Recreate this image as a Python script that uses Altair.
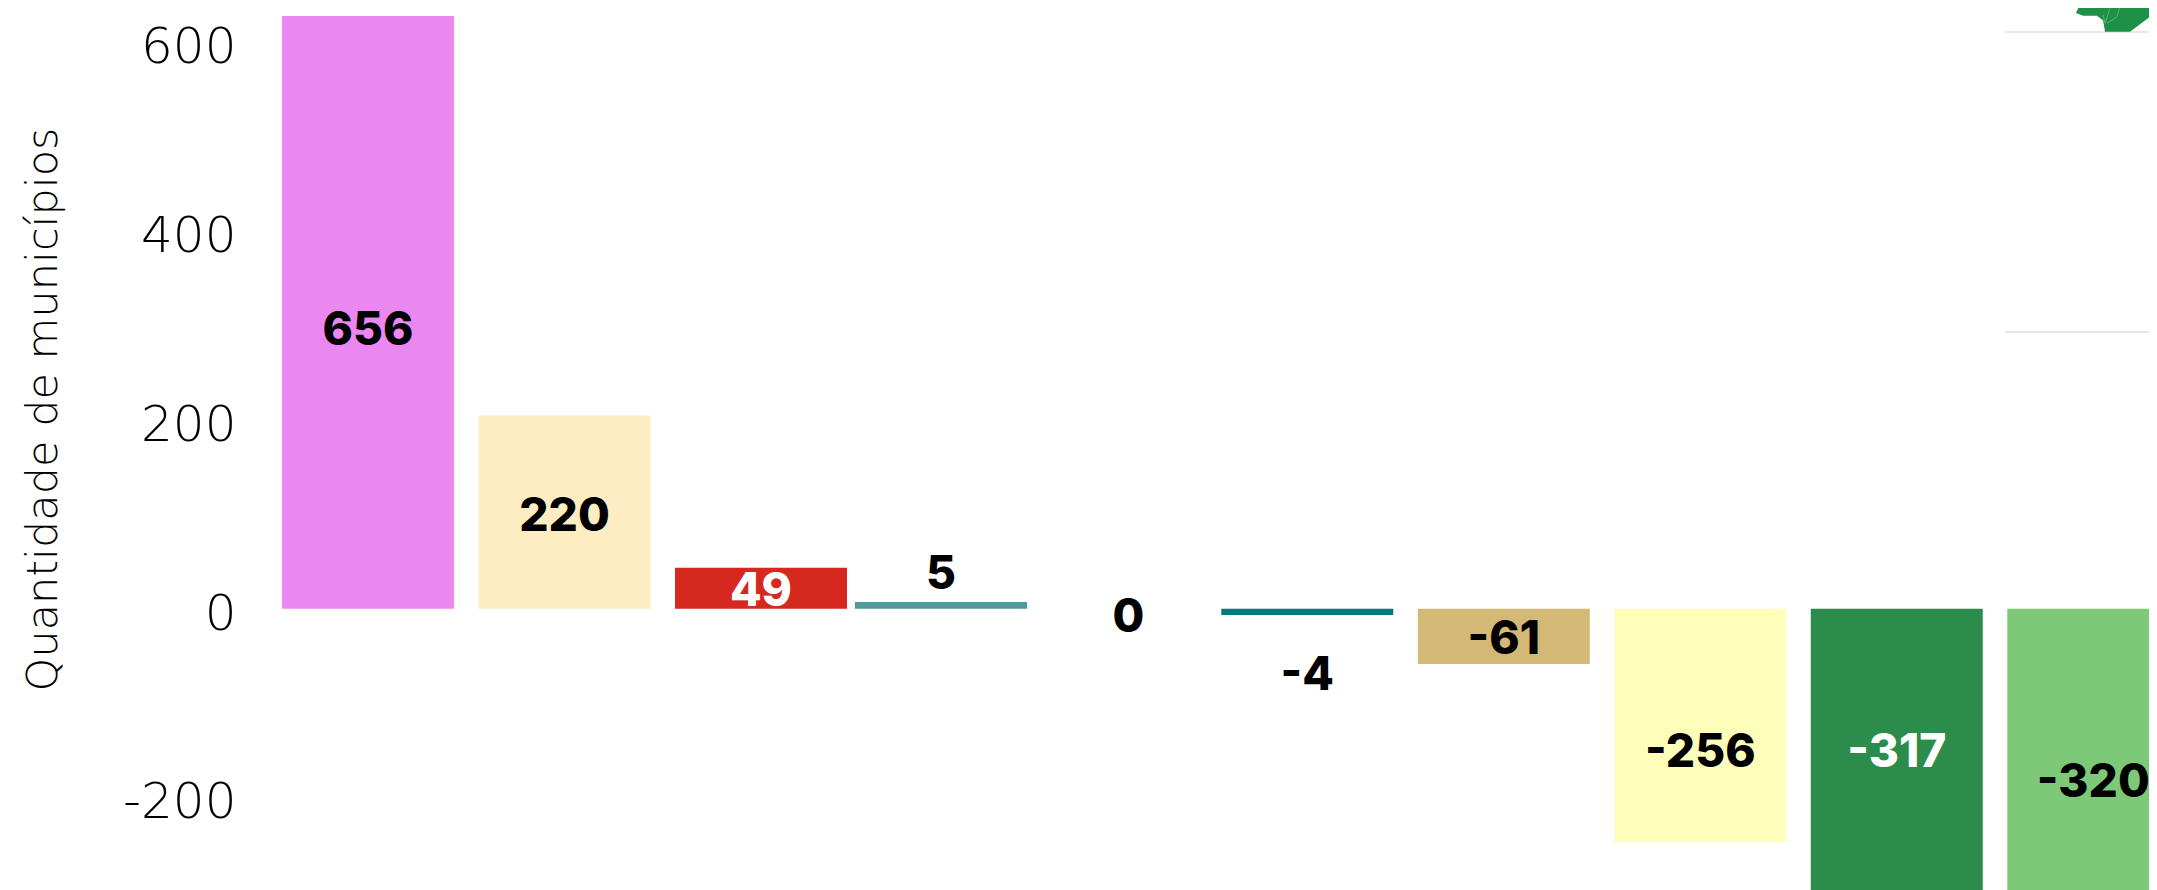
import altair as alt
import pandas as pd

# Labels as printed on the bars
labels = ["656", "220", "49", "5", "0", "-4", "-61", "-256", "-317", "-320"]
label_colors = ["#000000", "#000000", "#ffffff", "#000000", "#000000", "#000000", "#000000", "#000000", "#ffffff", "#000000"]
# Horizontal slot of each bar (slots are slightly uneven in the reference)
slots = [0, 1, 2, 2.916, 3.87, 4.78, 5.78, 6.78, 7.78, 8.78]
# Bar ends read on the axis' scale
bar_base = [3.5, 3.5, 3.5, 3.5, 3.5, 3.5, 3.5, 3.5, 3.5, 3.5]
bar_end = [630.7, 208, 46.9, 10.6, 3.5, -3.2, -55, -243.4, -302, -305]
# Label centres read on the axis' scale
label_pos = [297, 101, 21, 39, -6, -68, -30, -149, -149, -181]
colors = ["#EB87F0", "#FEEDC3", "#D5281F", "#4F9A9B", "#FFFFFF", "#00787F", "#D3B975", "#FEFEBB", "#2C8C4B", "#7DC977"]
ticks = [-200, 0, 200, 400, 600]

# Faint grid lines of the backdrop, top right
grid_values = [613.8, 296.3]
grid_from = 8.33
grid_to = 9.105

# Fragment of a map, top right
map_x = [8.692, 8.728, 8.799, 8.83, 8.84, 8.967, 9.069, 9.074, 9.105]
map_low = [634, 631, 631, 626, 614, 614, 630, 584, 581]
map_high = [634, 650, 650, 650, 650, 650, 650, 650, 650]
# Pale borders inside the map
line_x = [8.865, 8.83, 8.84, 8.926, 8.901, 8.85]
line_v = [639, 632, 623, 650, 630, 623]
line_id = ["a", "a", "a", "b", "b", "b"]

df = pd.DataFrame({
    "slot": slots, "base": bar_base, "end": bar_end, "color": colors,
    "label": labels, "label_pos": label_pos, "label_color": label_colors,
})
grid_df = pd.DataFrame({"v": grid_values, "a": [grid_from] * 2, "b": [grid_to] * 2})
map_df = pd.DataFrame({"x": map_x, "low": map_low, "high": map_high})
line_df = pd.DataFrame({"x": line_x, "v": line_v, "id": line_id})

FONT = "Inter"
AXIS_FONT = "DejaVu Sans"
x_scale = alt.Scale(domain=[(240 - 368) / 196.5, (2149 - 368) / 196.5], nice=False, zero=False, padding=0)
y_scale = alt.Scale(domain=[-294.2, 639.2], nice=False, zero=False, padding=0)

y_axis = alt.Axis(
    values=ticks, grid=False, domain=False, ticks=False, labelFont=AXIS_FONT, labelFontSize=50,
    labelFontWeight=200, labelColor="#000000", labelPadding=4, labelFlush=False, labelOverlap=False,
    labelExpr="toString(datum.value)", labelOffset=2,
    title="Quantidade de municípios", titleFont=AXIS_FONT, titleFontSize=43, titleFontWeight=200,
    titleColor="#000000", titleX=-175, titleY=401, titleAnchor="middle",
)

grid = alt.Chart(grid_df).mark_rule(color="#E8E8E8", strokeWidth=2, clip=True).encode(
    x=alt.X("a:Q", scale=x_scale, axis=None),
    x2="b:Q",
    y=alt.Y("v:Q", scale=y_scale, axis=y_axis),
)
map_part = alt.Chart(map_df).mark_area(color="#1D9148", clip=True).encode(
    x=alt.X("x:Q", scale=x_scale, axis=None),
    y=alt.Y("low:Q", scale=y_scale, axis=y_axis),
    y2="high:Q",
)
map_lines = alt.Chart(line_df).mark_line(color="#5DAF7A", strokeWidth=1, clip=True).encode(
    x=alt.X("x:Q", scale=x_scale, axis=None),
    y=alt.Y("v:Q", scale=y_scale, axis=y_axis),
    detail="id:N",
)
bars = alt.Chart(df).mark_bar(size=172, clip=True).encode(
    x=alt.X("slot:Q", scale=x_scale, axis=None),
    y=alt.Y("base:Q", scale=y_scale, axis=y_axis),
    y2="end:Q",
    color=alt.Color("color:N", scale=None),
)
text = alt.Chart(df).mark_text(font=FONT, fontSize=46, fontWeight=800, baseline="middle", align="center").encode(
    x=alt.X("slot:Q", scale=x_scale, axis=None),
    y=alt.Y("label_pos:Q", scale=y_scale, axis=y_axis),
    text="label:N",
    color=alt.Color("label_color:N", scale=None),
)

chart = (grid + map_part + map_lines + bars + text).properties(
    width=1909, height=882, background="#ffffff",
    padding={"left": 232, "top": 0, "right": 0, "bottom": 0},
    autosize=alt.AutoSizeParams(type="none"),
).configure_view(stroke=None)

chart.save("out.html", embed_options={"renderer": "svg", "actions": False})
